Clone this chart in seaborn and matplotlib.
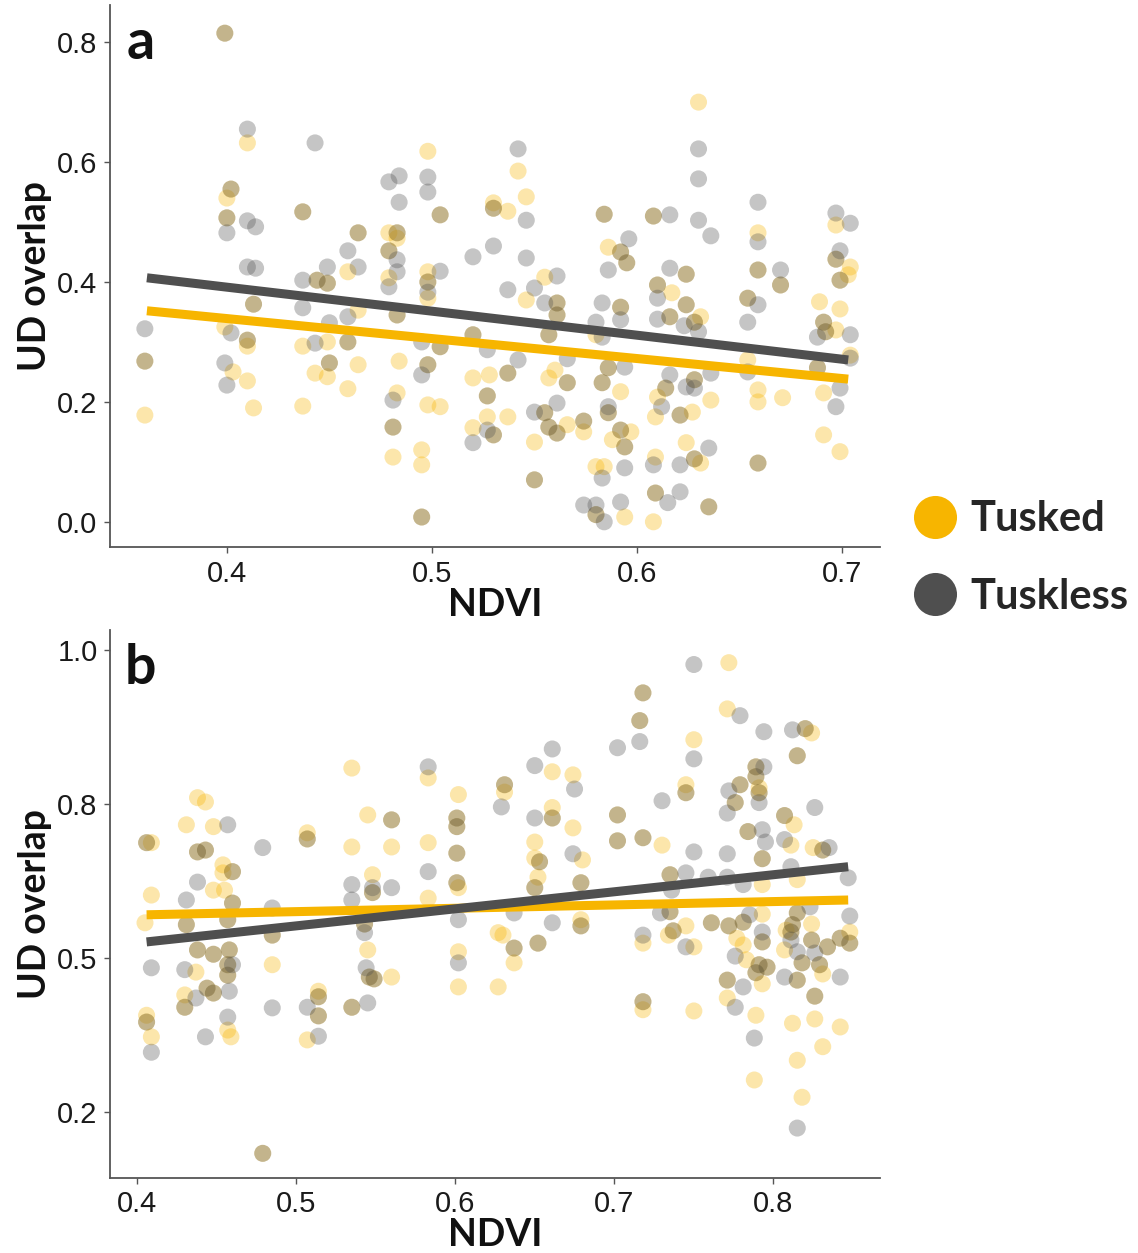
import numpy as np
import pandas as pd
import matplotlib
matplotlib.use("Agg")
import matplotlib.pyplot as plt
import seaborn as sns
from matplotlib.lines import Line2D

# ---------------- data ----------------
groups = ["Tusked", "Tuskless"]

# Panel a: (NDVI, UD overlap)
a_shared = [(0.399,0.815),(0.402,0.555),(0.400,0.507),(0.437,0.517),(0.504,0.512),(0.530,0.523),
    (0.464,0.482),(0.483,0.482),(0.479,0.452),(0.444,0.403),(0.449,0.398),(0.498,0.400),(0.413,0.363),
    (0.483,0.345),(0.410,0.303),(0.459,0.300),(0.504,0.292),(0.520,0.312),(0.360,0.268),(0.450,0.265),
    (0.498,0.262),(0.527,0.210),(0.481,0.158),(0.530,0.145),(0.495,0.008),(0.584,0.513),(0.608,0.510),
    (0.659,0.420),(0.697,0.438),(0.592,0.450),(0.595,0.432),(0.624,0.413),(0.561,0.365),(0.561,0.345),
    (0.592,0.358),(0.610,0.395),(0.616,0.342),(0.624,0.362),(0.628,0.333),(0.654,0.373),(0.670,0.395),
    (0.691,0.333),(0.692,0.317),(0.699,0.403),(0.557,0.312),(0.537,0.248),(0.566,0.232),(0.586,0.257),
    (0.583,0.232),(0.628,0.237),(0.614,0.223),(0.688,0.257),(0.555,0.182),(0.557,0.158),(0.561,0.148),
    (0.574,0.168),(0.586,0.182),(0.592,0.153),(0.594,0.125),(0.621,0.178),(0.628,0.105),(0.550,0.070),
    (0.659,0.098),(0.609,0.048),(0.635,0.025),(0.580,0.012)]
a_tusked_only = [(0.410,0.632),(0.498,0.618),(0.400,0.540),(0.530,0.532),(0.479,0.482),(0.483,0.473),
    (0.459,0.417),(0.498,0.417),(0.479,0.407),(0.498,0.373),(0.464,0.353),(0.399,0.325),(0.410,0.293),
    (0.437,0.293),(0.449,0.300),(0.403,0.250),(0.410,0.235),(0.443,0.248),(0.449,0.242),(0.464,0.262),
    (0.459,0.222),(0.484,0.268),(0.520,0.240),(0.528,0.245),(0.483,0.215),(0.498,0.195),(0.504,0.192),
    (0.413,0.190),(0.437,0.193),(0.360,0.178),(0.527,0.175),(0.520,0.157),(0.481,0.108),(0.495,0.120),
    (0.495,0.095),(0.630,0.700),(0.542,0.585),(0.546,0.542),(0.537,0.518),(0.659,0.482),(0.697,0.495),
    (0.704,0.425),(0.586,0.458),(0.555,0.408),(0.546,0.370),(0.617,0.382),(0.631,0.342),(0.689,0.367),
    (0.699,0.355),(0.703,0.412),(0.697,0.320),(0.580,0.312),(0.537,0.175),(0.557,0.240),(0.560,0.253),
    (0.592,0.217),(0.610,0.208),(0.609,0.175),(0.636,0.203),(0.654,0.270),(0.691,0.215),(0.691,0.145),
    (0.699,0.117),(0.659,0.220),(0.659,0.200),(0.671,0.207),(0.704,0.278),(0.566,0.162),(0.574,0.150),
    (0.597,0.150),(0.588,0.137),(0.550,0.133),(0.627,0.183),(0.624,0.132),(0.631,0.098),(0.609,0.108),
    (0.580,0.092),(0.584,0.092),(0.594,0.008),(0.608,0.000)]
a_tuskless_only = [(0.410,0.655),(0.443,0.632),(0.479,0.567),(0.484,0.577),(0.498,0.575),(0.498,0.550),
    (0.484,0.533),(0.400,0.482),(0.410,0.502),(0.414,0.492),(0.530,0.460),(0.520,0.442),(0.459,0.452),
    (0.483,0.437),(0.483,0.417),(0.410,0.425),(0.414,0.423),(0.449,0.425),(0.464,0.425),(0.504,0.418),
    (0.437,0.403),(0.479,0.392),(0.498,0.383),(0.437,0.357),(0.459,0.342),(0.450,0.332),(0.360,0.322),
    (0.402,0.315),(0.443,0.298),(0.495,0.300),(0.527,0.287),(0.399,0.265),(0.400,0.228),(0.495,0.245),
    (0.481,0.203),(0.527,0.153),(0.520,0.132),(0.630,0.622),(0.630,0.572),(0.630,0.503),(0.636,0.477),
    (0.542,0.622),(0.546,0.503),(0.546,0.440),(0.616,0.512),(0.659,0.533),(0.659,0.467),(0.670,0.420),
    (0.697,0.515),(0.704,0.498),(0.699,0.452),(0.596,0.472),(0.586,0.420),(0.616,0.423),(0.561,0.410),
    (0.537,0.387),(0.550,0.390),(0.555,0.365),(0.583,0.365),(0.592,0.337),(0.610,0.373),(0.610,0.338),
    (0.623,0.327),(0.630,0.317),(0.659,0.362),(0.654,0.333),(0.688,0.308),(0.704,0.312),(0.580,0.333),
    (0.583,0.308),(0.566,0.272),(0.542,0.270),(0.594,0.258),(0.616,0.245),(0.624,0.225),(0.628,0.223),
    (0.612,0.192),(0.636,0.248),(0.654,0.250),(0.699,0.223),(0.697,0.192),(0.704,0.273),(0.550,0.183),
    (0.561,0.198),(0.586,0.192),(0.635,0.123),(0.621,0.095),(0.608,0.095),(0.594,0.090),(0.583,0.073),
    (0.621,0.050),(0.615,0.032),(0.574,0.028),(0.580,0.028),(0.584,0.000),(0.592,0.033)]

# Panel b
b_shared = [(0.601,0.727),(0.601,0.713),(0.601,0.670),(0.601,0.622),(0.560,0.724),(0.548,0.606),
    (0.406,0.687),(0.438,0.672),(0.443,0.675),(0.507,0.693),(0.460,0.640),(0.460,0.589),(0.718,0.930),
    (0.716,0.885),(0.820,0.872),(0.815,0.828),(0.631,0.781),(0.745,0.768),(0.789,0.810),(0.789,0.794),
    (0.779,0.781),(0.776,0.752),(0.791,0.768),(0.807,0.731),(0.661,0.727),(0.702,0.732),(0.702,0.690),
    (0.718,0.695),(0.653,0.656),(0.650,0.614),(0.679,0.622),(0.784,0.705),(0.793,0.661),(0.831,0.675),
    (0.735,0.635),(0.431,0.554),(0.438,0.513),(0.448,0.506),(0.458,0.513),(0.457,0.489),(0.457,0.472),
    (0.444,0.451),(0.448,0.443),(0.430,0.420),(0.406,0.396),(0.457,0.562),(0.485,0.537),(0.514,0.437),
    (0.514,0.406),(0.479,0.183),(0.535,0.420),(0.546,0.469),(0.549,0.466),(0.543,0.555),(0.637,0.516),
    (0.652,0.524),(0.679,0.552),(0.718,0.429),(0.735,0.575),(0.737,0.544),(0.761,0.557),(0.772,0.552),
    (0.781,0.558),(0.793,0.526),(0.771,0.464),(0.791,0.489),(0.789,0.476),(0.796,0.485),(0.815,0.573),
    (0.812,0.554),(0.811,0.542),(0.818,0.492),(0.824,0.529),(0.829,0.489),(0.834,0.518),(0.842,0.532),
    (0.848,0.524),(0.815,0.464),(0.826,0.438)]
b_tusked_only = [(0.535,0.808),(0.583,0.792),(0.602,0.765),(0.602,0.614),(0.583,0.687),(0.583,0.597),
    (0.545,0.732),(0.560,0.680),(0.535,0.680),(0.548,0.635),(0.438,0.760),(0.443,0.753),(0.431,0.716),
    (0.448,0.713),(0.409,0.687),(0.507,0.703),(0.454,0.651),(0.454,0.638),(0.448,0.610),(0.455,0.610),
    (0.409,0.602),(0.772,0.979),(0.771,0.904),(0.824,0.865),(0.750,0.854),(0.661,0.802),(0.674,0.797),
    (0.631,0.769),(0.745,0.781),(0.791,0.776),(0.813,0.716),(0.661,0.744),(0.674,0.711),(0.730,0.683),
    (0.650,0.688),(0.650,0.662),(0.680,0.659),(0.652,0.631),(0.811,0.683),(0.825,0.679),(0.793,0.619),
    (0.815,0.627),(0.405,0.557),(0.437,0.477),(0.430,0.440),(0.457,0.383),(0.459,0.372),(0.406,0.407),
    (0.409,0.372),(0.485,0.489),(0.514,0.446),(0.507,0.367),(0.560,0.469),(0.545,0.513),(0.602,0.510),
    (0.602,0.453),(0.627,0.541),(0.627,0.453),(0.630,0.537),(0.637,0.492),(0.679,0.562),(0.718,0.416),
    (0.718,0.524),(0.734,0.537),(0.745,0.552),(0.750,0.518),(0.750,0.414),(0.793,0.571),(0.777,0.532),
    (0.781,0.521),(0.771,0.435),(0.783,0.497),(0.793,0.458),(0.789,0.407),(0.788,0.302),(0.808,0.545),
    (0.824,0.555),(0.807,0.513),(0.831,0.474),(0.848,0.542),(0.812,0.394),(0.826,0.401),(0.842,0.388),
    (0.831,0.356),(0.815,0.334),(0.818,0.274)]
b_tuskless_only = [(0.583,0.810),(0.583,0.640),(0.535,0.619),(0.535,0.594),(0.548,0.614),(0.560,0.614),
    (0.457,0.716),(0.479,0.679),(0.438,0.623),(0.431,0.594),(0.629,0.745),(0.750,0.976),(0.716,0.851),
    (0.702,0.841),(0.779,0.893),(0.794,0.867),(0.812,0.870),(0.750,0.823),(0.661,0.839),(0.650,0.812),
    (0.675,0.774),(0.730,0.755),(0.794,0.810),(0.772,0.771),(0.771,0.735),(0.791,0.752),(0.826,0.744),
    (0.650,0.727),(0.674,0.669),(0.793,0.708),(0.795,0.688),(0.807,0.692),(0.835,0.679),(0.750,0.672),
    (0.771,0.669),(0.745,0.638),(0.759,0.631),(0.771,0.631),(0.781,0.619),(0.811,0.648),(0.847,0.630),
    (0.736,0.610),(0.460,0.489),(0.430,0.481),(0.409,0.484),(0.458,0.446),(0.437,0.435),(0.457,0.404),
    (0.443,0.372),(0.409,0.347),(0.485,0.581),(0.485,0.419),(0.507,0.420),(0.514,0.373),(0.545,0.427),
    (0.544,0.484),(0.543,0.541),(0.602,0.562),(0.602,0.492),(0.637,0.573),(0.661,0.557),(0.718,0.537),
    (0.729,0.573),(0.745,0.518),(0.785,0.570),(0.793,0.542),(0.776,0.503),(0.776,0.420),(0.781,0.453),
    (0.788,0.370),(0.811,0.529),(0.823,0.583),(0.815,0.510),(0.826,0.508),(0.848,0.568),(0.842,0.469),
    (0.807,0.469),(0.815,0.224)]

# fitted regression lines (end points)
a_fit_ndvi = [0.361, 0.703]
a_fit_tusked = [0.352, 0.238]
a_fit_tuskless = [0.407, 0.270]
b_fit_ndvi = [0.406, 0.847]
b_fit_tusked = [0.570, 0.594]
b_fit_tuskless = [0.526, 0.648]

a_yticks = [0.0, 0.2, 0.4, 0.6, 0.8]
a_yticklabels = ["0.0", "0.2", "0.4", "0.6", "0.8"]
a_xticks = [0.4, 0.5, 0.6, 0.7]
b_yticks = [0.25, 0.5, 0.75, 1.0]
b_yticklabels = ["0.2", "0.5", "0.8", "1.0"]
b_xticks = [0.4, 0.5, 0.6, 0.7, 0.8]

# ---------------- styling ----------------
TUSKED = "#F7B500"
TUSKLESS = "#4F4F4F"
palette = {"Tusked": TUSKED, "Tuskless": TUSKLESS}

sns.set_theme(style="ticks")
plt.rcParams['font.family'] = ['Liberation Sans', 'DejaVu Sans']
BOLD_FONT = ['Lato', 'DejaVu Sans']


def points_frame(shared, tusked_only, tuskless_only):
    rows = [("Tusked", x, y) for x, y in tusked_only + shared]
    rows += [("Tuskless", x, y) for x, y in tuskless_only + shared]
    return pd.DataFrame(rows, columns=["group", "NDVI", "UD"])


def fit_frame(xs, yt, yl):
    return pd.DataFrame({"group": ["Tusked"] * 2 + ["Tuskless"] * 2,
                         "NDVI": xs + xs, "UD": yt + yl})


W, H = 1138, 1253
fig = plt.figure(figsize=(W / 100, H / 100), dpi=100)
ax_a = fig.add_axes([110 / W, 1 - 547 / H, 770 / W, 542 / H])
ax_b = fig.add_axes([110 / W, 1 - 1178 / H, 770 / W, 548 / H])

panels = [
    (ax_a, points_frame(a_shared, a_tusked_only, a_tuskless_only),
     fit_frame(a_fit_ndvi, a_fit_tusked, a_fit_tuskless),
     (0.343, 0.7185), (-0.042, 0.862), a_xticks, a_yticks, a_yticklabels, "a"),
    (ax_b, points_frame(b_shared, b_tusked_only, b_tuskless_only),
     fit_frame(b_fit_ndvi, b_fit_tusked, b_fit_tuskless),
     (0.383, 0.867), (0.143, 1.032), b_xticks, b_yticks, b_yticklabels, "b"),
]

for ax, pts, fit, xl, yl, xt, yt, ytl, letter in panels:
    sns.scatterplot(data=pts, x="NDVI", y="UD", hue="group", hue_order=groups,
                    palette=palette, s=150, alpha=0.33, edgecolor="none",
                    legend=False, ax=ax, zorder=2)
    sns.lineplot(data=fit, x="NDVI", y="UD", hue="group", hue_order=groups,
                 palette=palette, linewidth=6.5, legend=False, ax=ax,
                 estimator=None, sort=False, zorder=3, solid_capstyle="butt")
    ax.set_xlim(*xl)
    ax.set_ylim(*yl)
    ax.set_xticks(xt)
    ax.set_xticklabels([f"{v:.1f}" for v in xt])
    ax.set_yticks(yt)
    ax.set_yticklabels(ytl)
    for s in ["top", "right"]:
        ax.spines[s].set_visible(False)
    for s in ["left", "bottom"]:
        ax.spines[s].set_color("#555555")
        ax.spines[s].set_linewidth(1.3)
    ax.tick_params(axis="both", length=4, width=1.0, color="#555555",
                   labelsize=21, labelcolor="#1a1a1a", pad=5)
    ax.set_xlabel("NDVI", fontsize=27, fontweight="bold", family=BOLD_FONT,
                  labelpad=0, color="#111111")
    ax.set_ylabel("UD overlap", fontsize=27, fontweight="bold", family=BOLD_FONT,
                  labelpad=4, color="#111111")
    ax.text(0.040, 0.93, letter, transform=ax.transAxes, fontsize=40,
            fontweight="bold", family=BOLD_FONT, ha="center", va="center",
            color="#111111")

handles = [Line2D([], [], marker="o", ls="", markersize=31, markerfacecolor=palette[g],
                  markeredgecolor="none", label=g) for g in groups]
fig.legend(handles=handles, loc="center left", bbox_to_anchor=(912 / W, 1 - 558 / H),
           frameon=False, prop={"family": BOLD_FONT, "weight": "bold", "size": 30},
           handletextpad=0.3, labelspacing=0.95, handlelength=1.1,
           borderaxespad=0, borderpad=0)

fig.savefig("out.png", dpi=100, facecolor="white")
